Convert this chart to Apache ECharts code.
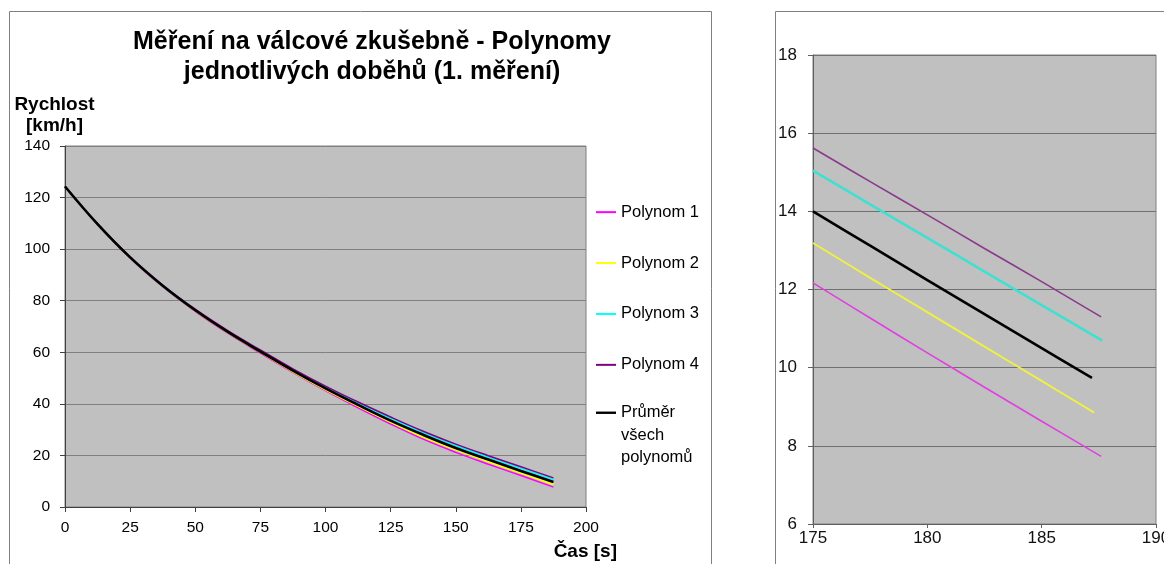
<!DOCTYPE html>
<html>
<head>
<meta charset="utf-8">
<script src="https://cdn.jsdelivr.net/npm/echarts@6/dist/echarts.min.js"></script>
<style>
html,body{margin:0;padding:0;background:#fff;}
#c{width:1164px;height:564px;}
</style>
</head>
<body>
<div id="c"></div>
<script>
// ---- data ----
const seriesNames = ['Polynom 1', 'Polynom 2', 'Polynom 3', 'Polynom 4', 'Průměr všech polynomů'];
const timeS = [0, 12.5, 25, 37.5, 50, 62.5, 75, 87.5, 100, 112.5, 125, 137.5, 150, 162.5, 175, 187.5];
const poly1 = [124.3, 109.6, 96.6, 85.5, 75.9, 67.4, 59.7, 52.2, 45.1, 38.5, 32.2, 26.3, 21.2, 16.6, 12.2, 7.7];
const poly2 = [124.3, 109.6, 96.7, 85.7, 76.1, 67.7, 60.0, 52.5, 45.5, 39.1, 32.9, 27.2, 22.2, 17.6, 13.2, 8.8];
const poly3 = [124.4, 109.8, 96.9, 86.0, 76.5, 68.2, 60.7, 53.3, 46.5, 40.2, 34.3, 28.8, 23.8, 19.3, 15.0, 10.7];
const poly4 = [124.4, 109.8, 97.0, 86.1, 76.7, 68.4, 60.9, 53.6, 46.9, 40.7, 34.9, 29.4, 24.4, 19.9, 15.6, 11.3];
const average = [124.3, 109.7, 96.8, 85.8, 76.3, 67.9, 60.3, 52.9, 46.0, 39.6, 33.5, 28.0, 22.9, 18.4, 14.0, 9.7];

// zoomed detail (right chart)
const zoomTime = [175, 177.5, 180, 182.5, 185];
const zoomEndTime = [187.6, 187.3, 187.65, 187.6, 187.2];
const zoomPoly1 = [12.17, 11.27, 10.38, 9.50, 8.63, 7.73];
const zoomPoly2 = [13.19, 12.30, 11.42, 10.54, 9.66, 8.85];
const zoomPoly3 = [15.04, 14.18, 13.32, 12.46, 11.60, 10.69];
const zoomPoly4 = [15.62, 14.76, 13.91, 13.05, 12.20, 11.30];
const zoomAverage = [14.00, 13.12, 12.24, 11.37, 10.50, 9.74];

const leftTicks = {xMin: 0, xMax: 200, xStep: 25, yMin: 0, yMax: 140, yStep: 20};
const rightTicks = {xMin: 175, xMax: 190, xStep: 5, yMin: 6, yMax: 18, yStep: 2};

// ---- styles ----
const FONT = "'Liberation Sans', Arial, Helvetica, sans-serif";
const leftColors = ['#FF00FF', '#FFFF00', '#00FFFF', '#800080', '#000000'];
const leftWidths = [1.5, 1.8, 1.8, 1.5, 2.6];
const rightColors = ['#E040E0', '#F0F040', '#40E0D0', '#8B3A8B', '#000000'];
const rightWidths = [1.6, 2, 2.6, 1.6, 2.6];

const leftData = [poly1, poly2, poly3, poly4, average];
const rightData = [zoomPoly1, zoomPoly2, zoomPoly3, zoomPoly4, zoomAverage];

function pairs(xArr, yArr) { return yArr.map((v, i) => [xArr[i], v]); }

const series = [];
leftData.forEach((arr, i) => {
  series.push({
    name: seriesNames[i], type: 'line', xAxisIndex: 0, yAxisIndex: 0,
    data: pairs(timeS, arr), symbol: 'none', showSymbol: false, smooth: 0.4,
    lineStyle: {color: leftColors[i], width: leftWidths[i]}, itemStyle: {color: leftColors[i]},
    z: 2 + i, animation: false
  });
});
rightData.forEach((arr, i) => {
  const xArr = zoomTime.concat([zoomEndTime[i]]);
  series.push({
    name: seriesNames[i], type: 'line', xAxisIndex: 1, yAxisIndex: 1,
    data: pairs(xArr, arr), symbol: 'none', showSymbol: false, smooth: 0.4,
    lineStyle: {color: rightColors[i], width: rightWidths[i]}, itemStyle: {color: rightColors[i]},
    z: 2 + i, animation: false
  });
});

const axisCol = '#404040';
const gridCol = '#808080';
const legendText = {fontFamily: FONT, fontSize: 16.5, color: '#000', lineHeight: 22.3};

const chart = echarts.init(document.getElementById('c'), null, {renderer: 'canvas'});
chart.setOption({
  backgroundColor: '#ffffff',
  animation: false,
  textStyle: {fontFamily: FONT},
  title: {
    text: 'Měření na válcové zkušebně - Polynomy\njednotlivých doběhů (1. měření)',
    left: 372, top: 27, textAlign: 'center', padding: 0,
    textStyle: {fontFamily: FONT, fontSize: 25, fontWeight: 'bold', color: '#000', lineHeight: 30}
  },
  legend: [
    {
      orient: 'vertical', left: 596, top: 201, padding: 0,
      icon: 'rect', itemWidth: 20, itemHeight: 2, itemGap: 28.6,
      data: seriesNames.slice(0, 4),
      textStyle: legendText
    },
    {
      orient: 'vertical', left: 596, top: 357, padding: 0,
      icon: 'rect', itemWidth: 20, itemHeight: 2.4, itemGap: 10,
      data: seriesNames.slice(4),
      formatter: function () { return '\n\nPrůměr\nvšech\npolynomů'; },
      textStyle: legendText
    }
  ],
  graphic: [
    {type: 'rect', shape: {x: 9.5, y: 11.5, width: 702, height: 570}, style: {fill: 'none', stroke: '#808080', lineWidth: 1}, z: -10, silent: true},
    {type: 'rect', shape: {x: 775.5, y: 11.5, width: 420, height: 570}, style: {fill: 'none', stroke: '#808080', lineWidth: 1}, z: -10, silent: true}
  ],
  grid: [
    {left: 65, top: 146, width: 521, height: 361, show: true, backgroundColor: '#C0C0C0', borderColor: gridCol, borderWidth: 1, containLabel: false, outerBoundsMode: 'none'},
    {left: 813, top: 55, width: 343, height: 469, show: true, backgroundColor: '#C0C0C0', borderColor: gridCol, borderWidth: 1, containLabel: false, outerBoundsMode: 'none'}
  ],
  xAxis: [
    {
      type: 'value', gridIndex: 0, min: leftTicks.xMin, max: leftTicks.xMax, interval: leftTicks.xStep,
      name: 'Čas [s]', nameLocation: 'end', nameGap: 31, nameMoveOverlap: false,
      nameTextStyle: {fontFamily: FONT, fontSize: 19, fontWeight: 'bold', color: '#000', align: 'right', verticalAlign: 'top', padding: [34, 0, 0, 0], lineHeight: 22},
      axisLine: {show: true, onZero: false, lineStyle: {color: axisCol, width: 1}},
      axisTick: {show: true, length: 5, inside: false, lineStyle: {color: axisCol}},
      axisLabel: {fontFamily: FONT, fontSize: 15.5, color: '#000', margin: 13, showMinLabel: true, showMaxLabel: true},
      splitLine: {show: false}
    },
    {
      type: 'value', gridIndex: 1, min: rightTicks.xMin, max: rightTicks.xMax, interval: rightTicks.xStep,
      axisLine: {show: true, onZero: false, lineStyle: {color: '#606060', width: 1}},
      axisTick: {show: true, length: 4, inside: false, lineStyle: {color: '#606060'}},
      axisLabel: {fontFamily: FONT, fontSize: 17, color: '#111', margin: 6, showMinLabel: true, showMaxLabel: true, hideOverlap: false},
      splitLine: {show: false}
    }
  ],
  yAxis: [
    {
      type: 'value', gridIndex: 0, min: leftTicks.yMin, max: leftTicks.yMax, interval: leftTicks.yStep,
      name: 'Rychlost\n[km/h]', nameLocation: 'end', nameGap: 10, nameMoveOverlap: false,
      nameTextStyle: {fontFamily: FONT, fontSize: 19, fontWeight: 'bold', color: '#000', lineHeight: 21, padding: [0, 21, 0, 0]},
      axisLine: {show: true, onZero: false, lineStyle: {color: axisCol, width: 1}},
      axisTick: {show: true, length: 5, inside: false, lineStyle: {color: axisCol}},
      axisLabel: {fontFamily: FONT, fontSize: 15.5, color: '#000', margin: 15},
      splitLine: {show: true, lineStyle: {color: gridCol, width: 1}}
    },
    {
      type: 'value', gridIndex: 1, min: rightTicks.yMin, max: rightTicks.yMax, interval: rightTicks.yStep,
      axisLine: {show: true, onZero: false, lineStyle: {color: '#606060', width: 1}},
      axisTick: {show: true, length: 5, inside: false, lineStyle: {color: '#606060'}},
      axisLabel: {fontFamily: FONT, fontSize: 17, color: '#111', margin: 16},
      splitLine: {show: true, lineStyle: {color: '#707070', width: 1}}
    }
  ],
  series: series
});
</script>
</body>
</html>
